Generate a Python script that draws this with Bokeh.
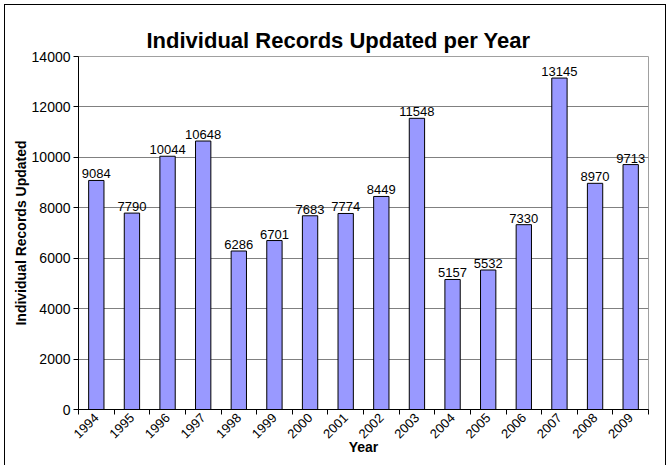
import math
from bokeh.plotting import figure
from bokeh.models import ColumnDataSource, FixedTicker, Range1d
from bokeh.core.properties import value
from bokeh.embed import file_html
from bokeh.resources import INLINE

years = ["1994", "1995", "1996", "1997", "1998", "1999", "2000", "2001",
         "2002", "2003", "2004", "2005", "2006", "2007", "2008", "2009"]
records = [9084, 7790, 10044, 10648, 6286, 6701, 7683, 7774,
           8449, 11548, 5157, 5532, 7330, 13145, 8970, 9713]
y_ticks = [0, 2000, 4000, 6000, 8000, 10000, 12000, 14000]

n = len(years)
centers = [i + 0.5 for i in range(n)]
bounds = list(range(n + 1))

src = ColumnDataSource(dict(x=centers, y=records, label=[str(v) for v in records]))

FONT = "Liberation Sans"

p = figure(width=662, height=462, output_backend="svg", toolbar_location=None,
           x_range=Range1d(0, n), y_range=Range1d(0, 14000),
           min_border_left=73, min_border_right=19, min_border_top=51,
           min_border_bottom=58, title="Individual Records Updated per Year")
p.styles = {"border": "1.5px solid black", "margin-left": "4px", "margin-top": "4px"}

p.title.align = "left"
p.title.offset = 68
p.title.text_font = FONT
p.title.text_font_size = "22px"
p.title.text_font_style = "bold"
p.title.text_color = "black"
p.title.standoff = 8

p.vbar(x="x", top="y", width=0.43, source=src, fill_color="#9999ff",
       line_color="black", line_width=1)
p.text(x="x", y="y", text="label", source=src, text_align="center",
       text_baseline="bottom", y_offset=-2, text_font=value(FONT),
       text_font_size="13px", text_color="black")

p.outline_line_color = "#a0a0a0"
p.outline_line_width = 1
p.background_fill_color = "white"
p.border_fill_color = "white"

p.xgrid.visible = False
p.ygrid.grid_line_color = "#808080"
p.ygrid.grid_line_width = 1
p.ygrid.ticker = FixedTicker(ticks=y_ticks)

yax = p.yaxis[0]
yax.ticker = FixedTicker(ticks=y_ticks)
yax.axis_label = "Individual Records Updated"
yax.axis_label_text_font = FONT
yax.axis_label_text_font_size = "14px"
yax.axis_label_text_font_style = "bold"
yax.axis_label_text_color = "black"
yax.axis_label_standoff = 0
yax.major_label_text_font = FONT
yax.major_label_text_font_size = "14px"
yax.major_label_text_color = "black"
yax.axis_line_color = "black"
yax.major_tick_line_color = "black"
yax.major_tick_out = 5
yax.major_tick_in = 0
yax.minor_tick_line_color = None
yax.major_label_standoff = 3

xax = p.xaxis[0]
xax.ticker = FixedTicker(ticks=centers, minor_ticks=bounds)
xax.major_label_overrides = {c: y for c, y in zip(centers, years)}
xax.major_label_orientation = math.pi / 4
xax.axis_label = "Year"
xax.axis_label_text_font = FONT
xax.axis_label_text_font_size = "14px"
xax.axis_label_text_font_style = "bold"
xax.axis_label_text_color = "black"
xax.axis_label_standoff = -6
xax.major_label_text_font = FONT
xax.major_label_text_font_size = "13px"
xax.major_label_text_color = "black"
xax.axis_line_color = "black"
xax.major_tick_line_color = None
xax.minor_tick_line_color = "black"
xax.minor_tick_out = 5
xax.minor_tick_in = 0
xax.major_label_standoff = 0

open("out.html", "w").write(file_html(p, INLINE))
